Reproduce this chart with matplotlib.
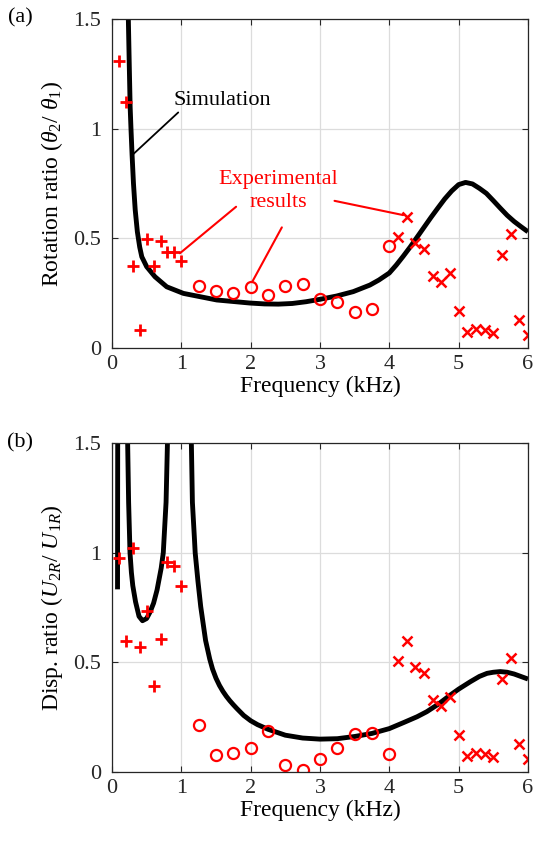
import matplotlib
matplotlib.use('Agg')
import matplotlib.pyplot as plt

plt.rcParams['font.family'] = 'Liberation Serif'
plt.rcParams['mathtext.fontset'] = 'custom'
plt.rcParams['mathtext.rm'] = 'Liberation Serif'
plt.rcParams['mathtext.it'] = 'Liberation Serif:italic'

# Measured points (frequency in kHz)
plus_f = [0.1, 0.2, 0.3, 0.4, 0.5, 0.6, 0.7, 0.8, 0.9, 1.0]
plus_a = [1.31, 1.12, 0.375, 0.082, 0.495, 0.375, 0.488, 0.439, 0.439, 0.398]
plus_b = [0.977, 0.598, 1.02, 0.571, 0.734, 0.392, 0.605, 0.959, 0.939, 0.849]

circ_f = [1.25, 1.5, 1.75, 2.0, 2.25, 2.5, 2.75, 3.0, 3.25, 3.5, 3.75, 4.0]
circ_a = [0.283, 0.261, 0.249, 0.279, 0.242, 0.283, 0.292, 0.225, 0.211, 0.163, 0.176, 0.466]
circ_b = [0.214, 0.077, 0.085, 0.108, 0.187, 0.032, 0.009, 0.058, 0.108, 0.173, 0.179, 0.080]

cross_f = [4.125, 4.25, 4.375, 4.5, 4.625, 4.75, 4.875, 5.0,
           5.125, 5.25, 5.375, 5.5, 5.625, 5.75, 5.875, 6.0]
cross_v = [0.507, 0.596, 0.477, 0.452, 0.327, 0.300, 0.342, 0.168,
           0.074, 0.085, 0.080, 0.068, 0.423, 0.522, 0.128, 0.059]

# Simulation curves
sim_a_f = [0.215, 0.236, 0.25, 0.262, 0.274, 0.29, 0.31, 0.335, 0.366, 0.40, 0.43,
           0.5, 0.62, 0.79, 1.03, 1.51, 1.99, 2.2, 2.4, 2.6, 2.8, 3.0, 3.24, 3.48, 3.72,
           3.85, 4.0, 4.1, 4.2, 4.3, 4.4, 4.5, 4.6, 4.7, 4.8, 4.9, 5.0, 5.1, 5.2,
           5.3, 5.4, 5.5, 5.6, 5.7, 5.8, 5.9, 6.0]
sim_a_y = [1.8, 1.5, 1.28, 1.1, 1.0, 0.88, 0.75, 0.63, 0.53, 0.46, 0.416,
           0.371, 0.325, 0.279, 0.249, 0.219, 0.205, 0.201, 0.2, 0.203, 0.211, 0.222, 0.237, 0.257, 0.287,
           0.31, 0.342, 0.378, 0.418, 0.46, 0.505, 0.55, 0.595, 0.638, 0.68, 0.716, 0.745, 0.755, 0.748,
           0.728, 0.705, 0.672, 0.638, 0.605, 0.577, 0.553, 0.53]

sim_b1_f = [0.08, 0.083]
sim_b1_y = [0.833, 1.6]

sim_b2_f = [0.222, 0.226, 0.24, 0.26, 0.28, 0.3, 0.34, 0.39, 0.44, 0.5, 0.55, 0.6,
            0.65, 0.71, 0.74, 0.78, 0.80, 0.81]
sim_b2_y = [1.6, 1.5, 1.23, 1.0, 0.91, 0.85, 0.776, 0.71, 0.69, 0.70, 0.73, 0.77,
            0.83, 0.93, 1.0, 1.23, 1.5, 1.6]

sim_b3_f = [1.135, 1.145, 1.16, 1.19, 1.2, 1.24, 1.28, 1.35, 1.41, 1.45, 1.5, 1.55,
            1.6, 1.65, 1.7, 1.75, 1.8, 1.9, 2.0, 2.1, 2.25, 2.5, 2.75, 3.0, 3.25,
            3.5, 3.75, 4.0, 4.21, 4.4, 4.54, 4.7, 4.88, 5.0, 5.17, 5.3, 5.41, 5.5,
            5.6, 5.7, 5.8, 6.0]
sim_b3_y = [1.6, 1.5, 1.23, 1.06, 1.0, 0.87, 0.754, 0.6, 0.515, 0.47, 0.428, 0.395,
            0.368, 0.345, 0.325, 0.307, 0.29, 0.258, 0.234, 0.216, 0.195, 0.168, 0.155, 0.15, 0.152,
            0.162, 0.176, 0.198, 0.226, 0.252, 0.275, 0.308, 0.351, 0.378, 0.412, 0.436, 0.45, 0.455,
            0.458, 0.455, 0.447, 0.424]

xticks = [0, 1, 2, 3, 4, 5, 6]
yticks = [0, 0.5, 1, 1.5]
ytick_labels = ['0', '0.5', '1', '1.5']

fig = plt.figure(figsize=(5.34, 8.42), dpi=100)
ax_a = fig.add_axes([0.2097, 0.5867, 0.779, 0.3907])
ax_b = fig.add_axes([0.2097, 0.0831, 0.779, 0.3907])

red = '#ff0000'
line_kw = dict(color='black', linewidth=3.5, solid_joinstyle='round',
               solid_capstyle='butt')


def style_axes(ax):
    ax.set_xlim(0, 6)
    ax.set_ylim(0, 1.5)
    ax.set_xticks(xticks)
    ax.set_yticks(yticks)
    ax.set_yticklabels(ytick_labels)
    ax.grid(True, color='#dcdcdc', linewidth=0.9)
    ax.set_axisbelow(True)
    ax.tick_params(direction='in', length=4, width=0.8, colors='#262626',
                   top=True, right=True, labelsize=16)
    ax.tick_params(axis='y', pad=8)
    ax.tick_params(axis='x', pad=5)
    for s in ax.spines.values():
        s.set_color('#262626')
        s.set_linewidth(0.9)
    ax.set_xlabel('Frequency (kHz)', fontsize=17, labelpad=1)


def draw_points(ax, plus_vals, circ_vals):
    ax.plot(plus_f, plus_vals, '+', color=red, markersize=9, markeredgewidth=2)
    ax.plot(circ_f, circ_vals, 'o', color=red, markerfacecolor='none',
            markersize=8, markeredgewidth=1.6)
    ax.plot(cross_f, cross_v, 'x', color=red, markersize=6.5, markeredgewidth=1.8)


# Panel (a)
ax_a.plot(sim_a_f, sim_a_y, **line_kw)
draw_points(ax_a, plus_a, circ_a)
style_axes(ax_a)
ax_a.set_ylabel(r'Rotation ratio ($\theta_2$/ $\theta_1$)', fontsize=17, labelpad=6)

ax_a.annotate('Simulation', xy=(0.307, 0.884), xytext=(1.59, 1.13),
              fontsize=16, ha='center', va='center',
              arrowprops=dict(arrowstyle='-', color='black', lw=1.3,
                              shrinkA=0, shrinkB=0, relpos=(0.08, 0.0)))
ax_a.text(2.40, 0.715, 'Experimental\nresults', color=red, fontsize=16,
          ha='center', va='center', linespacing=1.3)
for start, end in [((1.79, 0.644), (0.98, 0.432)),
                   ((2.45, 0.55), (2.02, 0.30)),
                   ((3.21, 0.671), (4.2, 0.606))]:
    ax_a.annotate('', xy=end, xytext=start,
                  arrowprops=dict(arrowstyle='-', color=red, lw=1.5,
                                  shrinkA=0, shrinkB=0))

# Panel (b)
ax_b.plot(sim_b1_f, sim_b1_y, **line_kw)
ax_b.plot(sim_b2_f, sim_b2_y, **line_kw)
ax_b.plot(sim_b3_f, sim_b3_y, **line_kw)
draw_points(ax_b, plus_b, circ_b)
style_axes(ax_b)
ax_b.set_ylabel(r'Disp. ratio ($U_{2R}$/ $U_{1R}$)', fontsize=17, labelpad=6)

fig.text(0.038, 0.979, '(a)', fontsize=16, ha='center', va='center')
fig.text(0.038, 0.474, '(b)', fontsize=16, ha='center', va='center')

fig.savefig('out.png', dpi=100)
